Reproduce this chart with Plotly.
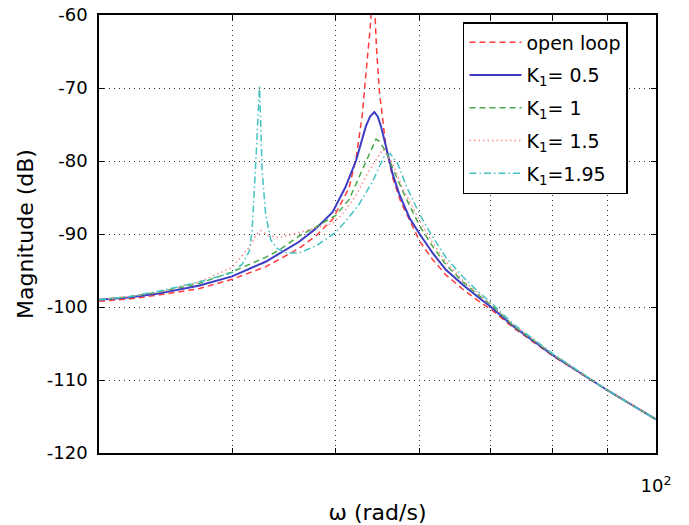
import plotly.graph_objects as go

# ---- data ----
w_open = [30, 32, 34, 37.2, 40, 43, 46.2, 48, 49.7, 51.5, 52.3, 53.0, 53.56, 53.9, 54.3, 54.65, 55.0, 55.8, 56.6, 57.6, 58.4, 60, 61.7, 63.5, 65.9, 68.3, 70, 73.4, 80, 90, 100]
m_open = [-99.2, -98.9, -98.4, -97.5, -96.2, -94.5, -92.0, -90.2, -88.0, -83.7, -79.6, -73.7, -66.2, -62.0, -55.0, -64.5, -70.5, -78.2, -82.3, -85.6, -87.4, -91.0, -93.5, -95.6, -97.6, -99.3, -100.3, -102.8, -106.7, -111.4, -115.4]

w_k05 = [30, 32, 34, 37.2, 40, 43, 46.2, 47.9, 49.7, 51.1, 52.3, 53.4, 53.9, 54.4, 54.8, 55.2, 56.0, 56.6, 57.4, 58.7, 60, 61.7, 63.5, 65.9, 68.3, 70, 73.4, 80, 90, 100]
m_k05 = [-99.0, -98.7, -98.2, -97.1, -95.8, -93.8, -91.1, -89.3, -87.0, -83.6, -79.9, -75.3, -73.9, -73.3, -73.9, -75.3, -79.0, -81.8, -84.5, -87.8, -90.0, -92.6, -94.9, -97.0, -98.8, -100.0, -102.6, -106.6, -111.4, -115.4]

w_k1 = [30, 32, 34, 37.2, 40, 43, 44.3, 46.2, 48, 50, 51.5, 53.0, 54.2, 54.6, 55.0, 55.8, 56.8, 58.0, 60, 61.7, 63.5, 65.9, 68.3, 70, 73.4, 80, 90, 100]
m_k1 = [-99.0, -98.6, -98.0, -96.8, -95.2, -93.2, -92.2, -90.3, -89.0, -87.5, -85.3, -81.2, -78.0, -77.0, -77.3, -78.8, -81.5, -84.5, -88.9, -91.7, -94.2, -96.6, -98.5, -99.7, -102.5, -106.5, -111.4, -115.4]

w_k15 = [30, 32, 34, 37.2, 40, 41.5, 42.2, 42.6, 43.2, 44.3, 46.2, 48, 49.6, 50.7, 52.3, 53.7, 55.4, 56.6, 57.8, 58.7, 60, 61.7, 63.5, 65.9, 68.3, 70, 73.4, 80, 90, 100]
m_k15 = [-99.0, -98.6, -98.0, -96.6, -94.6, -91.8, -90.0, -89.5, -90.2, -90.5, -89.8, -89.2, -88.6, -87.4, -84.7, -81.5, -78.4, -80.3, -83.7, -85.5, -88.2, -91.2, -93.8, -96.4, -98.3, -99.6, -102.4, -106.5, -111.4, -115.4]

w_k195 = [30, 32, 34, 37.2, 40, 40.9, 41.5, 41.76, 42.07, 42.25, 42.44, 42.56, 42.68, 43.0, 43.48, 44.11, 45.0, 46.2, 48.0, 50, 51.1, 52.6, 54.2, 55.5, 56.3, 57.2, 58.4, 60, 61.7, 63.5, 65.9, 68.3, 70, 73.4, 80, 90, 100]
m_k195 = [-99.0, -98.6, -97.9, -96.6, -95.3, -94.1, -92.4, -89.7, -81.2, -75.0, -69.8, -75.0, -81.2, -87.2, -90.8, -92.0, -92.6, -92.6, -91.6, -89.8, -88.3, -86.0, -82.8, -79.5, -79.0, -80.3, -83.7, -87.3, -90.4, -93.2, -95.9, -98.1, -99.4, -102.3, -106.4, -111.4, -115.4]

names = ["open loop", "K<sub>1</sub>= 0.5", "K<sub>1</sub>= 1", "K<sub>1</sub>= 1.5", "K<sub>1</sub>=1.95"]
x_ticks = [40, 50, 60, 70, 80, 90, 100]
x_ticktext = ["", "", "", "", "", "", "10<sup>2</sup>"]
y_ticks = [-120, -110, -100, -90, -80, -70, -60]
y_ticktext = ["-120", "-110", "-100", "-90", "-80", "-70", "-60"]

series = [
    (w_open, m_open, dict(color="#ff3b3b", width=1.5, dash="6px,4px")),
    (w_k05, m_k05, dict(color="#3c3cc4", width=2)),
    (w_k1, m_k1, dict(color="#4aa84a", width=1.5, dash="6px,4px")),
    (w_k15, m_k15, dict(color="#ff8a8a", width=1.5, dash="1.5px,3px")),
    (w_k195, m_k195, dict(color="#45c3c3", width=1.5, dash="7px,3px,1.5px,3px")),
]

fig = go.Figure()
for i, ((w, m, ln), nm) in enumerate(zip(series, names)):
    fig.add_trace(go.Scatter(x=w, y=m, mode="lines", name=nm, line=ln,
                             legendgroup=str(i)))

font_family = "DejaVu Sans, Liberation Sans, Arial, sans-serif"
axis_common = dict(
    showline=True, linecolor="black", linewidth=1.5, mirror="all",
    ticks="inside", ticklen=5, tickcolor="black", tickwidth=1,
    showgrid=True, gridcolor="#333333", gridwidth=1, griddash="1px,4px",
    zeroline=False, automargin=False,
)

fig.update_layout(
    width=689, height=525,
    margin=dict(l=99, r=33, t=15, b=72),
    paper_bgcolor="white", plot_bgcolor="white",
    font=dict(family=font_family, size=18, color="black"),
    showlegend=True,
    legend=dict(x=0.6535, y=0.984, xanchor="left", yanchor="top",
                bgcolor="white", bordercolor="black", borderwidth=1.5,
                font=dict(size=19), tracegroupgap=5, traceorder="grouped",
                itemwidth=52, entrywidth=176),
    xaxis=dict(type="log", range=[1.4771213, 2.0], tickvals=x_ticks,
               ticktext=x_ticktext, ticklabelstandoff=16,
               title=dict(text="ω (rad/s)", standoff=22), **axis_common),
    yaxis=dict(range=[-120, -60], tickvals=y_ticks, ticktext=y_ticktext,
               ticklabelstandoff=6,
               title=dict(text="Magnitude (dB)", standoff=7), **axis_common),
)

fig.write_html("out.html")
